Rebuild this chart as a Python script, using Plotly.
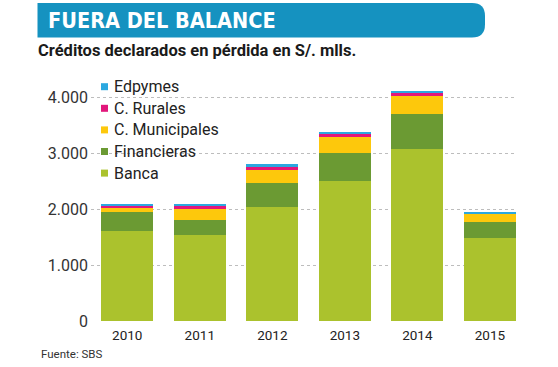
import plotly.graph_objects as go

years = ["2010", "2011", "2012", "2013", "2014", "2015"]
banca = [1600, 1540, 2030, 2505, 3075, 1475]
financieras = [340, 270, 435, 495, 625, 295]
municipales = [85, 190, 230, 290, 320, 145]
rurales = [35, 60, 65, 55, 55, 15]
edpymes = [25, 30, 40, 40, 40, 25]

series_names = ["Banca", "Financieras", "C. Municipales", "C. Rurales", "Edpymes"]
series_values = [banca, financieras, municipales, rurales, edpymes]
series_colors = ["#ABC22D", "#6B9A33", "#FDC80C", "#E2177B", "#2BA8E0"]

ytick_vals = [0, 1000, 2000, 3000, 4000]
ytick_text = ["0", "1.000", "2.000", "3.000", "4.000"]

title = "FUERA DEL BALANCE"
subtitle = "Créditos declarados en pérdida en S/. mlls."
source = "Fuente: SBS"

W, H = 558, 367
ML, MR, MT, MB = 91, 42, 86, 46
PW = W - ML - MR
PH = H - MT - MB


def px(x):
    return (x - ML) / PW


def py(y):
    return (H - MB - y) / PH


fig = go.Figure()
for name, vals, col in zip(series_names, series_values, series_colors):
    fig.add_trace(go.Bar(x=years, y=vals, name=name, marker=dict(color=col, line=dict(width=0)),
                         showlegend=False))

shapes = []
annotations = []

# title banner with rounded right end
x0, x1, y0, y1, r = 37.5, 485, 3, 37.5, 13
path = (f"M {px(x0)},{py(y0)} L {px(x1 - r)},{py(y0)} "
        f"Q {px(x1)},{py(y0)} {px(x1)},{py(y0 + r)} "
        f"L {px(x1)},{py(y1 - r)} Q {px(x1)},{py(y1)} {px(x1 - r)},{py(y1)} "
        f"L {px(x0)},{py(y1)} Z")
shapes.append(dict(type="path", xref="paper", yref="paper", path=path,
                   fillcolor="#1592C0", line=dict(width=0), layer="below"))
annotations.append(dict(x=px(46), y=py(21), xref="paper", yref="paper", text=title,
                        showarrow=False, xanchor="left", yanchor="middle",
                        font=dict(family="DejaVu Sans Condensed", size=21.5, color="white", weight="bold")))
annotations.append(dict(x=px(36), y=py(51), xref="paper", yref="paper", text=subtitle,
                        showarrow=False, xanchor="left", yanchor="middle",
                        font=dict(family="Roboto", size=16.5, color="#1a1a1a", weight="bold")))
annotations.append(dict(x=px(39), y=py(354), xref="paper", yref="paper", text=source,
                        showarrow=False, xanchor="left", yanchor="middle",
                        font=dict(family="Roboto", size=11.5, color="#333333")))

# legend (top to bottom: reverse of stack order)
leg_y0, leg_dy = 86.7, 21.6
for i, (name, col) in enumerate(zip(series_names[::-1], series_colors[::-1])):
    cy = leg_y0 + i * leg_dy
    shapes.append(dict(type="rect", xref="paper", yref="paper",
                       x0=px(101), x1=px(108), y0=py(cy - 3.5), y1=py(cy + 3.5),
                       fillcolor=col, line=dict(width=0)))
    annotations.append(dict(x=px(112), y=py(cy), xref="paper", yref="paper", text=name,
                            showarrow=False, xanchor="left", yanchor="middle",
                            font=dict(family="Roboto", size=16, color="#222222")))

fig.update_layout(
    width=W, height=H,
    margin=dict(l=ML, r=MR, t=MT, b=MB),
    paper_bgcolor="white", plot_bgcolor="white",
    barmode="stack", bargap=0.284,
    showlegend=False,
    shapes=shapes, annotations=annotations,
    xaxis=dict(type="category", range=[-0.5, 5.36], showgrid=False, showline=False,
               zeroline=False, ticks="", tickfont=dict(family="Roboto", size=13.5, color="#222222"),
               ticklabelstandoff=4),
    yaxis=dict(range=[0, 4200], tickvals=ytick_vals, ticktext=ytick_text,
               showgrid=True, gridcolor="#bdbdbd", griddash="dot", gridwidth=1,
               zeroline=False, showline=False, ticks="",
               tickfont=dict(family="Roboto", size=16, color="#333333"),
               ticklabelstandoff=2),
)

fig.write_html("out.html", config={"displayModeBar": False},
               post_script="document.body.style.margin='0';document.body.style.overflow='hidden';")
